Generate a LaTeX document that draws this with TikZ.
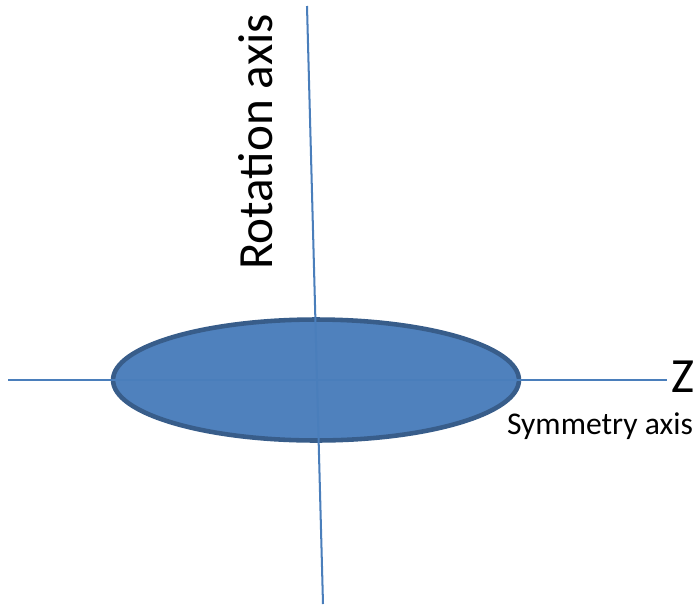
\documentclass[tikz,border=0pt]{standalone}
\usepackage{fontspec}
\setmainfont{Carlito}
\usetikzlibrary{shapes.geometric,positioning,calc}
\definecolor{axisclr}{RGB}{74,126,187}
\definecolor{bodyfill}{RGB}{79,129,189}
\definecolor{bodybdr}{RGB}{56,93,138}
\definecolor{lblclr}{RGB}{0,0,0}
\tikzset{
  axisline/.style={line width=1.15pt,color=axisclr},
  spheroid/.style={ellipse,draw=bodybdr,fill=bodyfill,line width=2.6pt,
    minimum width=8.12cm,minimum height=2.42cm,inner sep=0pt},
  biglbl/.style={font=\fontsize{28}{33}\selectfont,text=lblclr,inner sep=0pt},
  smalllbl/.style={font=\fontsize{18}{22}\selectfont,text=lblclr,inner sep=0pt},
}
\begin{document}
\begin{tikzpicture}[x=0.02cm,y=-0.02cm]
  \useasboundingbox (0,0) rectangle (697,606);
  % body
  \node[spheroid] (body) at (316,380) {};
  % axes
  \coordinate (rtop) at (307,6);
  \coordinate (rbot) at (323,604);
  \coordinate (zleft) at (8,380);
  \coordinate (zright) at (667,380);
  \draw[axisline] (rtop) -- (rbot);
  \draw[axisline] (zleft) -- (zright);
  % labels
  \node[biglbl,rotate=90,anchor=base] (rotlbl) at (272,142) {Rotation axis};
  \node[biglbl,anchor=base] (zlbl) at (683,392) {Z};
  \node[smalllbl,anchor=base] (symlbl) at (600,434) {Symmetry axis};
\end{tikzpicture}
\end{document}
